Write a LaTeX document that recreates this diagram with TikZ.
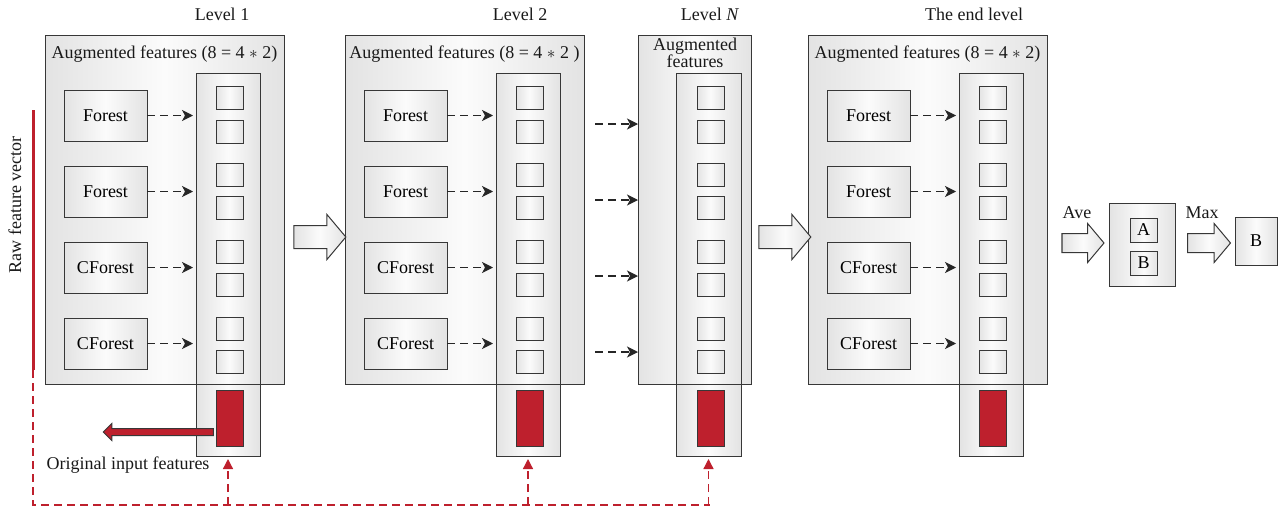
\documentclass[tikz,border=0pt]{standalone}
\usepackage{fontspec}
\setmainfont{Liberation Serif}
\usetikzlibrary{shapes.arrows,arrows.meta}
\definecolor{dred}{RGB}{190,32,45}
\definecolor{edge}{RGB}{55,55,55}
\begin{document}
\begin{tikzpicture}[x=1pt,y=-1pt,font=\fontsize{18}{20}\selectfont,
  shd/.style={left color=gray!22,right color=gray!22,middle color=gray!3},
  bx/.style={draw=edge,line width=1pt,shd,inner sep=0pt,outer sep=0pt,anchor=north west},
  sq/.style={bx,minimum width=27pt,minimum height=23pt},
  fbox/.style={bx,minimum width=83pt,minimum height=51pt},
  redblk/.style={draw=edge,line width=1pt,fill=dred,inner sep=0pt,outer sep=0pt,anchor=north west,minimum width=27pt,minimum height=56pt},
  dar/.style={draw=black!85,dash pattern=on 8pt off 5pt,line width=1.3pt,-{Stealth[length=11pt,width=11pt,inset=3pt]}},
  rdar/.style={draw=dred,color=dred,dash pattern=on 8pt off 5pt,line width=1.3pt},
  hollow/.style={single arrow,draw=edge,line width=1pt,shd,inner xsep=0pt,inner ysep=11pt,single arrow tip angle=100,single arrow head extend=11pt,minimum height=52pt},
  lbl/.style={inner sep=0pt,text=black!90}
]
\useasboundingbox (0,0) rectangle (1282,509);

% ---------- regular levels ----------
\foreach \x/\cx/\nm/\ttl/\tx/\hd in {45/196/A/{Level 1}/222/{Augmented features (8 = 4 $\ast$ 2)},
                                   345/496/B/{Level 2}/520/{Augmented features (8 = 4 $\ast$ 2 )},
                                   808/959/C/{The end level}/974/{Augmented features (8 = 4 $\ast$ 2)}}{
  \node[bx,minimum width=239pt,minimum height=349pt] (\nm box) at (\x,35) {};
  \node[lbl] (\nm title) at (\tx,14) {\ttl};
  \node[lbl] (\nm head) at (\x+119.5,54) {\hd};
  \node[bx,minimum width=64pt,minimum height=383pt] (\nm col) at (\cx,73) {};
  \draw[edge,line width=1pt] (\nm box.south west) -- (\nm box.south east);
  \foreach \y [count=\i] in {86,120,163,196,240,273,317,350}
    \node[sq] (\nm sq\i) at (\cx+20,\y) {};
  \node[redblk] (\nm red) at (\cx+20,390) {};
  \foreach \y/\t [count=\i] in {90/Forest,166/Forest,242/CForest,318/CForest}{
    \node[fbox] (\nm f\i) at (\x+19,\y) {\t};
    \draw[dar,shorten >=3pt] (\nm f\i.east) -- (\nm f\i.east -| \nm col.west);
  }
}

% ---------- level N ----------
\node[bx,minimum width=113pt,minimum height=349pt] (Nbox) at (638,35) {};
\node[lbl] (Ntitle) at (710,14) {Level \textit{N}};
\node[lbl,align=center] (Nhead) at (695,53) {Augmented\\[-3pt]features};
\node[bx,minimum width=65pt,minimum height=383pt] (Ncol) at (676,73) {};
\draw[edge,line width=1pt] (Nbox.south west) -- (Nbox.south east);
\foreach \y [count=\i] in {86,120,163,196,240,273,317,350}
  \node[sq] (Nsq\i) at (697,\y) {};
\node[redblk] (Nred) at (697,390) {};
\foreach \y [count=\i] in {124,200,276,352}{
  \coordinate (ns\i) at (595,\y);
  \draw[dar] (ns\i) -- (ns\i -| Nbox.west);
}

% ---------- big hollow arrows ----------
\node[hollow] (h1) at (315,237) {};
\node[hollow] (h2) at (780,237) {};

% ---------- final stage ----------
\node[hollow,minimum height=42pt,inner ysep=9pt,single arrow head extend=10pt] (ave) at (1079,243) {};
\node[lbl] (avet) at (1077,213) {Ave};
\node[bx,minimum width=66pt,minimum height=83pt] (ab) at (1109,203) {};
\node[bx,minimum width=27pt,minimum height=24pt] (aA) at (1130,218) {A};
\node[bx,minimum width=27pt,minimum height=24pt] (aB) at (1130,251) {B};
\node[hollow,minimum height=43pt,inner ysep=9pt,single arrow head extend=10pt] (max) at (1205,243) {};
\node[lbl] (maxt) at (1202,213) {Max};
\node[bx,minimum width=42pt,minimum height=48pt] (fin) at (1235,217) {B};

% ---------- raw feature vector ----------
\coordinate (rv1) at (33,110);
\coordinate (rv2) at (33,370);
\coordinate (rv3) at (33,505);
\draw[dred,line width=3pt] (rv1) -- (rv2);
\node[lbl,rotate=90] (rawt) at (15,205) {Raw feature vector};
\coordinate (rb) at (710,505);
\draw[rdar] (rv2) -- (rv3) -- (rb);
\foreach \n in {A,B,N}
  \draw[rdar,-{Triangle[length=10pt,width=10pt]},shorten >=3pt] (\n col.south |- rv3) -- (\n col.south);

% ---------- original input features ----------
\node[single arrow,draw=edge,line width=1pt,fill=dred,inner xsep=0pt,inner ysep=3pt,shape border rotate=180,
      single arrow head extend=5pt,single arrow tip angle=90,minimum height=110pt] (oarr) at (160,432) {};
\node[lbl] (orig) at (128,465) {Original input features};
\end{tikzpicture}
\end{document}
